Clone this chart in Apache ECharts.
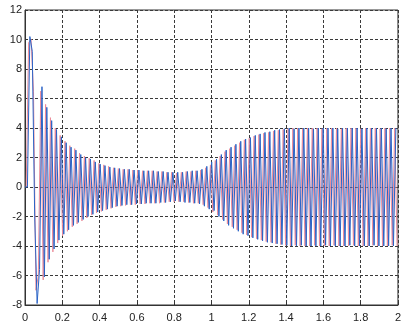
<!DOCTYPE html>
<html>
<head>
<meta charset="utf-8">
<script src="https://cdn.jsdelivr.net/npm/echarts@6/dist/echarts.min.js"></script>
<style>
  html, body { margin: 0; padding: 0; background: #fff; }
  #chart { width: 404px; height: 327px; }
</style>
</head>
<body>
<div id="chart"></div>
<script>
// Axis ticks
const xTicks = [0, 0.2, 0.4, 0.6, 0.8, 1, 1.2, 1.4, 1.6, 1.8, 2];
const yTicks = [-8, -6, -4, -2, 0, 2, 4, 6, 8, 10, 12];

// Sampling of the two signals: one sample every half cycle
const halfStep = 0.013;
const blueStart = 0.013;
const redStart = 0.0065;

// Blue signal, one peak value per half cycle
const blueValues = [
  0, 10.2, 9.2, -2.0, -7.9, -5.6, 6.8, -6.1, 5.4, -4.9,
  4.5, -4.2, 3.9, -3.6, 3.4, -3.2, 3.0, -2.9, 2.7, -2.6,
  2.5, -2.4, 2.2, -2.2, 2.0, -2.0, 1.9, -1.85, 1.7, -1.7,
  1.55, -1.6, 1.45, -1.5, 1.35, -1.4, 1.3, -1.3, 1.25, -1.25,
  1.2, -1.2, 1.2, -1.2, 1.15, -1.15, 1.15, -1.15, 1.1, -1.1,
  1.1, -1.1, 1.1, -1.1, 1.05, -1.05, 1.05, -1.05, 1.0, -1.0,
  1.0, -0.95, 1.0, -1.0, 1.0, -1.05, 1.05, -1.05, 1.1, -1.1,
  1.1, -1.15, 1.2, -1.3, 1.4, -1.5, 1.7, -1.6, 1.9, -2.0,
  2.2, -2.3, 2.5, -2.6, 2.7, -2.8, 2.9, -3.0, 3.1, -3.2,
  3.25, -3.3, 3.35, -3.45, 3.5, -3.55, 3.6, -3.65, 3.7, -3.75,
  3.75, -3.8, 3.85, -3.85, 3.9, -3.9, 3.95, -3.95, 4.0, -4.0,
  3.95, -4.0, 4.0, -3.95, 4.0, -4.0, 4.0, -4.0, 3.95, -4.0,
  4.0, -4.0, 4.0, -3.95, 4.0, -4.0, 4.0, -4.0, 3.95, -4.0,
  4.0, -4.0, 4.0, -3.95, 4.0, -4.0, 4.0, -4.0, 3.95, -4.0,
  4.0, -4.0, 4.0, -3.95, 4.0, -4.0, 4.0, -4.0, 3.95, -4.0,
  4.0, -4.0, 4.0
];

// Red signal, one peak value per half cycle (a quarter cycle ahead of blue)
const redValues = [
  0, 9.8, 10.0, 6.5, -7.0, -6.0, 6.5, -6.3, 5.6, -5.1,
  4.7, -4.4, 4.0, -3.8, 3.5, -3.3, 3.1, -3.0, 2.8, -2.7,
  2.6, -2.5, 2.3, -2.3, 2.1, -2.1, 1.95, -1.9, 1.8, -1.75,
  1.6, -1.65, 1.5, -1.55, 1.4, -1.45, 1.3, -1.35, 1.25, -1.3,
  1.2, -1.25, 1.2, -1.2, 1.15, -1.2, 1.15, -1.15, 1.1, -1.15,
  1.1, -1.1, 1.1, -1.1, 1.05, -1.1, 1.05, -1.05, 1.0, -1.0,
  1.0, -1.0, 0.95, -1.0, 1.0, -1.0, 1.05, -1.05, 1.05, -1.1,
  1.1, -1.1, 1.15, -1.2, 1.3, -1.4, 1.5, -1.7, 1.8, -1.9,
  2.1, -2.2, 2.4, -2.5, 2.6, -2.7, 2.8, -2.9, 3.0, -3.1,
  3.2, -3.25, 3.3, -3.4, 3.45, -3.5, 3.55, -3.6, 3.65, -3.7,
  3.7, -3.75, 3.8, -3.85, 3.85, -3.9, 3.9, -3.95, 3.95, -4.0,
  4.0, -3.95, 4.0, -4.0, 3.95, -4.0, 4.0, -4.0, 4.0, -3.95,
  4.0, -4.0, 3.95, -4.0, 4.0, -4.0, 4.0, -3.95, 4.0, -4.0,
  3.95, -4.0, 4.0, -4.0, 4.0, -3.95, 4.0, -4.0, 3.95, -4.0,
  4.0, -4.0, 4.0, -3.95, 4.0, -4.0, 3.95, -4.0, 4.0, -4.0,
  4.0, -3.95, 4.0, -4.0
];

function toPoints(start, values) {
  return values.map((v, k) => [+(start + k * halfStep).toFixed(4), v]);
}

const chart = echarts.init(document.getElementById('chart'), null, { renderer: 'canvas' });

const gridLine = { show: true, lineStyle: { color: '#3a3a3a', type: [3, 2], width: 1 } };
const labelStyle = { color: '#222', fontFamily: 'Liberation Sans, Arial, sans-serif', fontSize: 11 };

chart.setOption({
  animation: false,
  backgroundColor: '#fff',
  grid: {
    left: 25, right: 2, top: 10, bottom: 22,
    show: true, borderColor: '#333', borderWidth: 1, containLabel: false
  },
  xAxis: {
    type: 'value',
    min: xTicks[0], max: xTicks[xTicks.length - 1], interval: 0.2,
    axisLine: { show: true, onZero: false, lineStyle: { color: '#333', width: 1 } },
    axisTick: { show: true, inside: true, length: 3, lineStyle: { color: '#333' } },
    axisLabel: Object.assign({ margin: 7, formatter: v => String(+v.toFixed(1)) }, labelStyle),
    splitLine: gridLine
  },
  yAxis: {
    type: 'value',
    min: yTicks[0], max: yTicks[yTicks.length - 1], interval: 2,
    axisLine: { show: true, onZero: false, lineStyle: { color: '#333', width: 1 } },
    axisTick: { show: true, inside: true, length: 3, lineStyle: { color: '#333' } },
    axisLabel: Object.assign({ margin: 3 }, labelStyle),
    splitLine: gridLine
  },
  series: [
    {
      name: 'red',
      type: 'line',
      data: toPoints(redStart, redValues),
      showSymbol: false,
      sampling: null,
      lineStyle: { color: '#ec8c9a', width: 1 },
      z: 2
    },
    {
      name: 'blue',
      type: 'line',
      data: [[0, 0]].concat(toPoints(blueStart, blueValues)),
      showSymbol: false,
      sampling: null,
      lineStyle: { color: '#2a63c6', width: 1 },
      z: 3
    }
  ]
});
</script>
</body>
</html>
